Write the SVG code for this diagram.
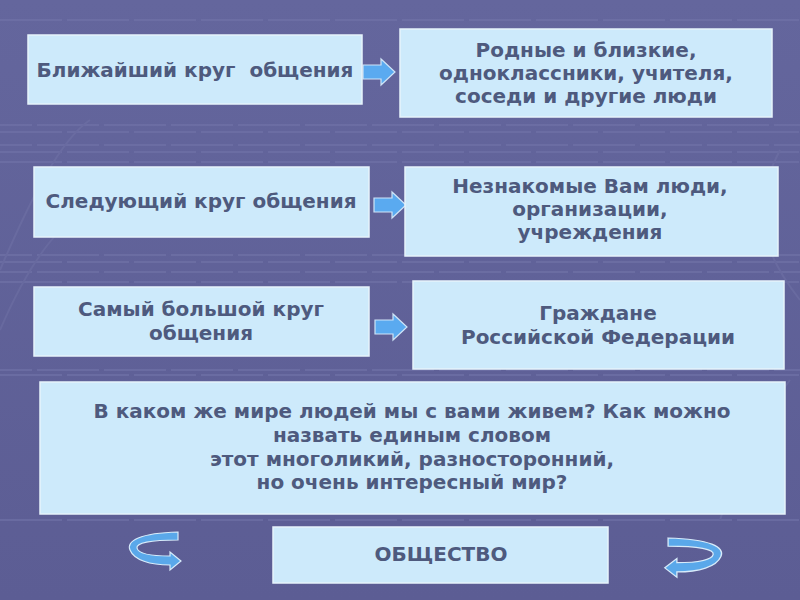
<svg xmlns="http://www.w3.org/2000/svg" width="800" height="600" viewBox="0 0 800 600">
<defs>
<style>
.box{fill:#cdeafb;stroke:#e6f3fb;stroke-width:1.5}
.t{font-family:"DejaVu Sans","Verdana",sans-serif;font-weight:bold;font-size:20px;fill:#4e5a7e;text-anchor:middle;white-space:pre}
.arr{fill:#5aaaf0;stroke:#cfe4f7;stroke-width:1.2}
.carr{fill:#5aa8ea;stroke:#d8ebfa;stroke-width:1.2}
.grid{stroke:#7476ab;stroke-width:2;stroke-dasharray:62 5}
</style>
<linearGradient id="bg" x1="0" y1="0" x2="0" y2="1">
<stop offset="0" stop-color="#64669d"/>
<stop offset="1" stop-color="#5c5d94"/>
</linearGradient>
<path id="sa" d="M0,-7 L18,-7 L18,-13 L32,0 L18,13 L18,7 L0,7 Z"/>
<path id="ca" d="M49,0 C11,1 -3,9 1,18 C5,28 21,33 41,33 L41,38 L52,29 L41,20 L41,24 C21,24 9,21 8,16 C7,11 21,8 49,8 Z"/>
</defs>
<rect width="800" height="600" fill="url(#bg)"/>
<g id="background-grid" opacity="0.55">
<path class="grid" d="M0,20H800M0,132H800M0,152H800M0,162H800M0,262H800M0,282H800M0,375H800M0,520H800"/>
<path class="grid" stroke-dashoffset="30" d="M0,125H800M0,145H800M0,255H800M0,272H800M0,370H800"/>
<path d="M0,270 C30,200 60,140 90,120" fill="none" stroke="#7072a6" stroke-width="2"/>
<path d="M0,330 C30,260 60,220 110,190" fill="none" stroke="#6f71a5" stroke-width="2"/>
<path d="M780,150 C760,190 745,230 800,300" fill="none" stroke="#7072a6" stroke-width="2"/>
<path d="M790,380 C760,420 740,460 720,520" fill="none" stroke="#6f71a5" stroke-width="2"/>
</g>
<g id="connectors">
<use href="#sa" class="arr" x="363" y="72"/>
<use href="#sa" class="arr" x="374" y="205"/>
<use href="#sa" class="arr" x="375" y="327"/>
<use href="#ca" class="carr" transform="translate(129,532)"/>
<use href="#ca" class="carr" transform="translate(722,538) scale(-1.1,1.03)"/>
</g>
<g id="n1"><rect class="box" x="28" y="35" width="334" height="69"/><text class="t" x="195" y="77">Ближайший круг  общения</text></g>
<g id="n2"><rect class="box" x="400" y="29" width="372" height="88"/><text class="t" x="586" y="57">Родные и близкие,</text><text class="t" x="586" y="80">одноклассники, учителя,</text><text class="t" x="586" y="103">соседи и другие люди</text></g>
<g id="n3"><rect class="box" x="34" y="167" width="335" height="70"/><text class="t" x="201" y="208">Следующий круг общения</text></g>
<g id="n4"><rect class="box" x="405" y="167" width="373" height="89"/><text class="t" x="590" y="193">Незнакомые Вам люди,</text><text class="t" x="590" y="216">организации,</text><text class="t" x="590" y="239">учреждения</text></g>
<g id="n5"><rect class="box" x="34" y="287" width="335" height="69"/><text class="t" x="201" y="316">Самый большой круг</text><text class="t" x="201" y="340">общения</text></g>
<g id="n6"><rect class="box" x="413" y="281" width="371" height="88"/><text class="t" x="598" y="320">Граждане</text><text class="t" x="598" y="344">Российской Федерации</text></g>
<g id="n7"><rect class="box" x="40" y="382" width="745" height="132"/><text class="t" x="412" y="418">В каком же мире людей мы с вами живем? Как можно</text><text class="t" x="412" y="442">назвать единым словом</text><text class="t" x="412" y="466">этот многоликий, разносторонний,</text><text class="t" x="412" y="489">но очень интересный мир?</text></g>
<g id="n8"><rect class="box" x="273" y="527" width="335" height="56"/><text class="t" x="441" y="561">ОБЩЕСТВО</text></g>
</svg>
